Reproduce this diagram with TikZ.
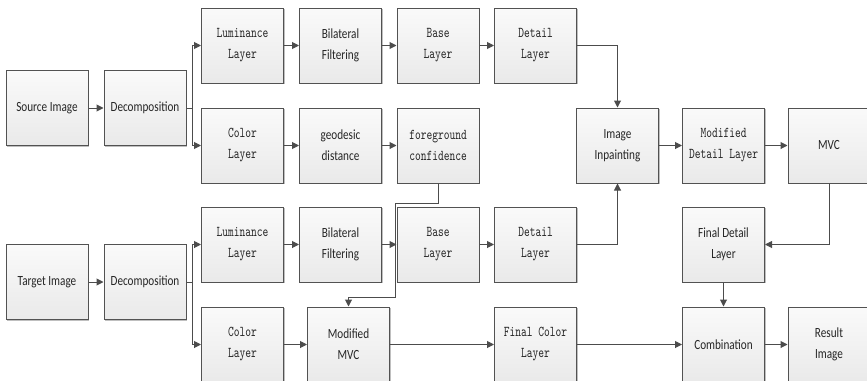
\documentclass[tikz,border=0pt]{standalone}
\usepackage{fontspec}
\usetikzlibrary{arrows.meta,shadows}
\newfontfamily\sansf{Carlito}[FakeStretch=0.8]
\newfontfamily\monof{lmmono10-regular}[Extension=.otf, FakeStretch=0.73]

\tikzset{
  box/.style={draw=black!68, line width=1pt, top color=gray!4, bottom color=gray!17,
    minimum width=82pt, minimum height=75pt, inner sep=1pt, align=center,
    text=black!85,
    drop shadow={shadow xshift=1.2pt, shadow yshift=-1.2pt, opacity=0.25, fill=black}},
  sbox/.style={box, font=\sansf\fontsize{14}{21}\selectfont},
  mbox/.style={box, font=\monof\fontsize{15}{21}\selectfont},
  link/.style={draw=black!70, line width=1pt},
  arr/.style={link, -{Triangle[length=7pt,width=7pt]}}
}

\begin{document}
\begin{tikzpicture}[x=1pt,y=-1pt]
\useasboundingbox (0,0) rectangle (867,380);
\clip (0,0) rectangle (867,380);

% source branch
\node[sbox] (src)   at (47,108)    {Source Image};
\node[sbox] (dec1)  at (145,108)   {Decomposition};
\node[mbox] (lum1)  at (242.5,45.5) {Luminance\\Layer};
\node[sbox] (bil1)  at (340.5,45.5) {Bilateral\\Filtering};
\node[mbox] (base1) at (438,45.5)  {Base\\Layer};
\node[mbox] (det1)  at (535.5,45.5) {Detail\\Layer};
\node[mbox] (col1)  at (242.5,145.5) {Color\\Layer};
\node[sbox] (geo)   at (340.5,145.5) {geodesic\\distance};
\node[mbox] (fg)    at (438,145.5) {foreground\\confidence};

% shared stages
\node[sbox] (inp)   at (617.5,145.5) {Image\\Inpainting};
\node[mbox] (mdl)   at (723.5,145.5) {Modified\\Detail Layer};
\node[sbox] (mvc)   at (829,145.5) {MVC};
\node[sbox] (fdl)   at (723.5,244.5) {Final Detail\\Layer};

% target branch
\node[sbox] (tgt)   at (47,282)    {Target Image};
\node[sbox] (dec2)  at (145,282)   {Decomposition};
\node[mbox] (lum2)  at (242.5,244.5) {Luminance\\Layer};
\node[sbox] (bil2)  at (340.5,244.5) {Bilateral\\Filtering};
\node[mbox] (base2) at (438,244.5) {Base\\Layer};
\node[mbox] (det2)  at (535.5,244.5) {Detail\\Layer};
\node[mbox] (col2)  at (242.5,344.5) {Color\\Layer};
\node[sbox] (mmvc)  at (348.5,344.5) {Modified\\MVC};
\node[mbox] (fcl)   at (535.5,344.5) {Final Color\\Layer};
\node[sbox] (comb)  at (723.5,344.5) {Combination};
\node[sbox] (res)   at (829,344.5) {Result\\Image};

% source connectors
\draw[arr] (src) -- (dec1);
\draw[link] (dec1.east) -- ++(6,0) coordinate (b1);
\draw[arr] (b1) |- (lum1.west);
\draw[arr] (b1) |- (col1.west);
\draw[arr] (lum1) -- (bil1);
\draw[arr] (bil1) -- (base1);
\draw[arr] (base1) -- (det1);
\draw[arr] (det1.east) -| (inp.north);
\draw[arr] (col1) -- (geo);
\draw[arr] (geo) -- (fg);

% foreground confidence feeds the modified MVC
\coordinate (k1) at (395,203);
\coordinate (k2) at (395,297);
\draw[arr] (fg.south) |- (k1) -- (k2) -| (mmvc.north);

% target connectors
\draw[arr] (tgt) -- (dec2);
\draw[link] (dec2.east) -- ++(6,0) coordinate (b2);
\draw[arr] (b2) |- (lum2.west);
\draw[arr] (b2) |- (col2.west);
\draw[arr] (lum2) -- (bil2);
\draw[arr] (bil2) -- (base2);
\draw[arr] (base2) -- (det2);
\draw[arr] (det2.east) -| (inp.south);

% merging stages
\draw[arr] (inp) -- (mdl);
\draw[arr] (mdl) -- (mvc);
\draw[arr] (mvc.south) |- (fdl.east);
\draw[arr] (fdl) -- (comb);
\draw[arr] (col2) -- (mmvc);
\draw[arr] (mmvc) -- (fcl);
\draw[arr] (fcl) -- (comb);
\draw[arr] (comb) -- (res);
\end{tikzpicture}
\end{document}
